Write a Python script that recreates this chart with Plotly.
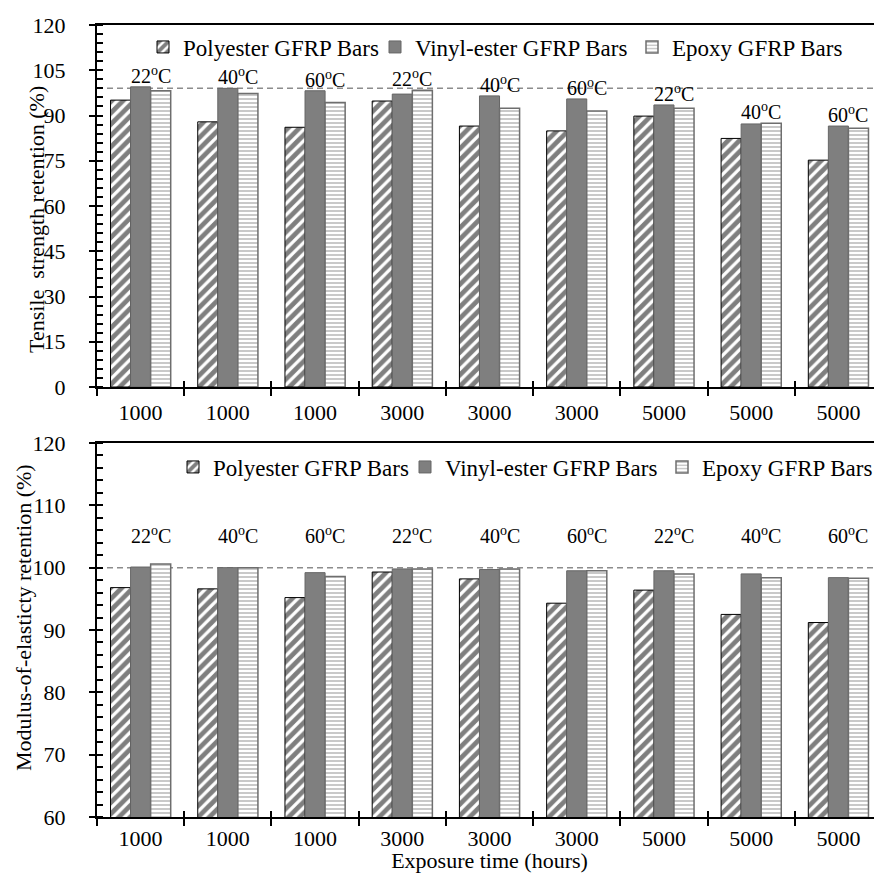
import plotly.graph_objects as go
from plotly.subplots import make_subplots

# ---------------- data ----------------
exposure_hours = ["1000", "1000", "1000", "3000", "3000", "3000", "5000", "5000", "5000"]
temperatures = ["22", "40", "60", "22", "40", "60", "22", "40", "60"]

tensile_polyester = [95.1, 87.9, 86.1, 94.8, 86.5, 84.9, 89.8, 82.4, 75.2]
tensile_vinyl = [99.5, 99.0, 98.2, 97.1, 96.5, 95.5, 93.5, 87.2, 86.5]
tensile_epoxy = [98.2, 97.3, 94.3, 98.4, 92.4, 91.5, 92.4, 87.4, 85.8]

modulus_polyester = [96.8, 96.6, 95.2, 99.3, 98.2, 94.3, 96.4, 92.5, 91.2]
modulus_vinyl = [100.1, 100.0, 99.2, 99.8, 99.7, 99.5, 99.5, 99.0, 98.4]
modulus_epoxy = [100.6, 100.0, 98.6, 99.8, 99.8, 99.5, 99.0, 98.4, 98.3]

series_names = ["Polyester GFRP Bars", "Vinyl-ester GFRP Bars", "Epoxy GFRP Bars"]
tensile_reference = 99
modulus_reference = 100
modulus_label_level = 105.3

# ---------------- styling ----------------
FONT = "Liberation Serif"
# the page body adds an 8px margin, so the figure is sized to sit in the window
W, H = 874, 865
L, R, T, B = 89, 0, 17, 56
plot_h = H - T - B
plot_w = W - L - R

def py(fig_y):  # figure pixel (from top) -> paper fraction
    return (H - B - fig_y) / plot_h

def px(fig_x):
    return (fig_x - L) / plot_w

styles = [
    dict(marker=dict(color="white", line=dict(color="black", width=1),
                     pattern=dict(shape="/", fgcolor="black", bgcolor="white", size=8, solidity=0.6))),
    dict(marker=dict(color="#7f7f7f", line=dict(color="#666666", width=1))),
    dict(marker=dict(color="white", line=dict(color="#6e6e6e", width=1.5),
                     pattern=dict(shape="-", fgcolor="#888888", bgcolor="white", size=4, solidity=0.45))),
]

x_pos = list(range(len(exposure_hours)))

fig = make_subplots(rows=2, cols=1)

top_data = [tensile_polyester, tensile_vinyl, tensile_epoxy]
bot_data = [modulus_polyester, modulus_vinyl, modulus_epoxy]

# one legend box per entry so each entry sits where the reference puts it
top_legends = ["legend", "legend3", "legend4"]
bot_legends = ["legend2", "legend5", "legend6"]
top_legend_left = [135, 367, 624]     # figure px
bot_legend_left = [165, 397, 654]

for i, name in enumerate(series_names):
    fig.add_trace(go.Bar(x=x_pos, y=top_data[i], name=name, legend=top_legends[i],
                         **styles[i]), row=1, col=1)
for i, name in enumerate(series_names):
    fig.add_trace(go.Bar(x=x_pos, y=bot_data[i], name=name, legend=bot_legends[i],
                         **styles[i]), row=2, col=1)

top_y0 = py(379)
bot_y1 = py(435)

xcommon = dict(
    range=[-0.5, len(exposure_hours) - 0.5],
    tickmode="array", tickvals=x_pos, ticktext=exposure_hours,
    ticks="", showline=True, linecolor="black", linewidth=2, mirror=True,
    tickfont=dict(family=FONT, size=22, color="black"),
    ticklabelstandoff=5, automargin=False,
    minor=dict(tickmode="linear", tick0=-0.5, dtick=1, ticks="outside",
               ticklen=7, tickcolor="black", tickwidth=2),
    showgrid=False, zeroline=False,
)
fig.update_xaxes(**xcommon)
fig.update_xaxes(row=2, col=1, ticklabelstandoff=1,
                 title=dict(text="Exposure time (hours)", standoff=9,
                            font=dict(family=FONT, size=22, color="black")))

ycommon = dict(showline=True, linecolor="black", linewidth=2, ticks="outside",
               ticklen=6, tickwidth=2, tickcolor="black", automargin=False,
               tickfont=dict(family=FONT, size=22, color="black"),
               showgrid=False, zeroline=False, ticklabelstandoff=19)
fig.update_yaxes(**ycommon)
fig.update_yaxes(row=1, col=1, range=[0, 120], dtick=15, tick0=0,
                 minor=dict(dtick=3, tick0=0, ticks="inside", ticklen=6, tickwidth=1.5, tickcolor="black"))
fig.update_yaxes(row=2, col=1, range=[60, 120], dtick=10, tick0=60,
                 minor=dict(dtick=2, tick0=60, ticks="inside", ticklen=6, tickwidth=1.5, tickcolor="black"))

fig.update_layout(
    yaxis=dict(domain=[top_y0, 1]),
    yaxis2=dict(domain=[0, bot_y1]),
    # overlay axes to make the major ticks cross the axis lines
    yaxis3=dict(overlaying="y", range=[0, 120], dtick=15, tick0=0, ticks="inside",
                ticklen=6, tickwidth=2, tickcolor="black", showticklabels=False,
                showgrid=False, zeroline=False, showline=False, anchor="x", automargin=False),
    yaxis4=dict(overlaying="y2", range=[60, 120], dtick=10, tick0=60, ticks="inside",
                ticklen=6, tickwidth=2, tickcolor="black", showticklabels=False,
                showgrid=False, zeroline=False, showline=False, anchor="x2", automargin=False),
    xaxis3=dict(overlaying="x", range=[-0.5, len(exposure_hours) - 0.5],
                tickmode="linear", tick0=-0.5, dtick=1, ticks="inside", ticklen=6,
                tickwidth=2, tickcolor="black", showticklabels=False, showgrid=False,
                zeroline=False, showline=False, anchor="y", automargin=False),
    xaxis4=dict(overlaying="x2", range=[-0.5, len(exposure_hours) - 0.5],
                tickmode="linear", tick0=-0.5, dtick=1, ticks="inside", ticklen=6,
                tickwidth=2, tickcolor="black", showticklabels=False, showgrid=False,
                zeroline=False, showline=False, anchor="y2", automargin=False),
)

# invisible traces so the overlay axes are drawn
fig.add_trace(go.Scatter(x=[0], y=[0], xaxis="x3", yaxis="y3", mode="markers",
                         marker=dict(opacity=0), showlegend=False, hoverinfo="skip"))
fig.add_trace(go.Scatter(x=[0], y=[60], xaxis="x4", yaxis="y4", mode="markers",
                         marker=dict(opacity=0), showlegend=False, hoverinfo="skip"))

# reference dashed lines
fig.add_shape(type="line", xref="x domain", yref="y", x0=0, x1=1,
              y0=tensile_reference, y1=tensile_reference,
              line=dict(color="#8c8c8c", width=1.5, dash="6px,4px"), layer="below")
fig.add_shape(type="line", xref="x2 domain", yref="y2", x0=0, x1=1,
              y0=modulus_reference, y1=modulus_reference,
              line=dict(color="#8c8c8c", width=1.5, dash="6px,4px"), layer="below")

# temperature labels
for i, t in enumerate(temperatures):
    gmax = max(tensile_polyester[i], tensile_vinyl[i], tensile_epoxy[i])
    fig.add_annotation(x=x_pos[i], y=gmax, xref="x", yref="y", text=f"{t}<sup>o</sup>C",
                       showarrow=False, yanchor="bottom", xshift=10, yshift=-2,
                       font=dict(family=FONT, size=20, color="black"))
    fig.add_annotation(x=x_pos[i], y=modulus_label_level, xref="x2", yref="y2",
                       text=f"{t}<sup>o</sup>C", showarrow=False, yanchor="middle",
                       xshift=10, font=dict(family=FONT, size=20, color="black"))

# y-axis titles
fig.add_annotation(text="Tensile  strength retention (%)", textangle=-90, showarrow=False,
                   xref="paper", yref="paper", x=px(28), y=py(212),
                   xanchor="center", yanchor="middle",
                   font=dict(family=FONT, size=22, color="black"))
fig.add_annotation(text="Modulus-of-elasticty retention (%)", textangle=-90, showarrow=False,
                   xref="paper", yref="paper", x=px(15), y=py(610),
                   xanchor="center", yanchor="middle",
                   font=dict(family=FONT, size=22, color="black"))

legend_common = dict(orientation="h", xanchor="left", yanchor="middle",
                     font=dict(family=FONT, size=23, color="black"),
                     bgcolor="rgba(0,0,0,0)", itemwidth=30)

legend_layout = {}
for name, left in zip(top_legends, top_legend_left):
    legend_layout[name] = dict(x=px(left), y=py(39), yref="paper", **legend_common)
for name, left in zip(bot_legends, bot_legend_left):
    legend_layout[name] = dict(x=px(left), y=py(459), yref="paper", **legend_common)

fig.update_layout(
    width=W, height=H,
    margin=dict(l=L, r=R, t=T, b=B, autoexpand=False),
    paper_bgcolor="white", plot_bgcolor="white",
    barmode="group", bargap=0.31, bargroupgap=0,
    showlegend=True,
    **legend_layout,
)

fig.write_html("out.html")
